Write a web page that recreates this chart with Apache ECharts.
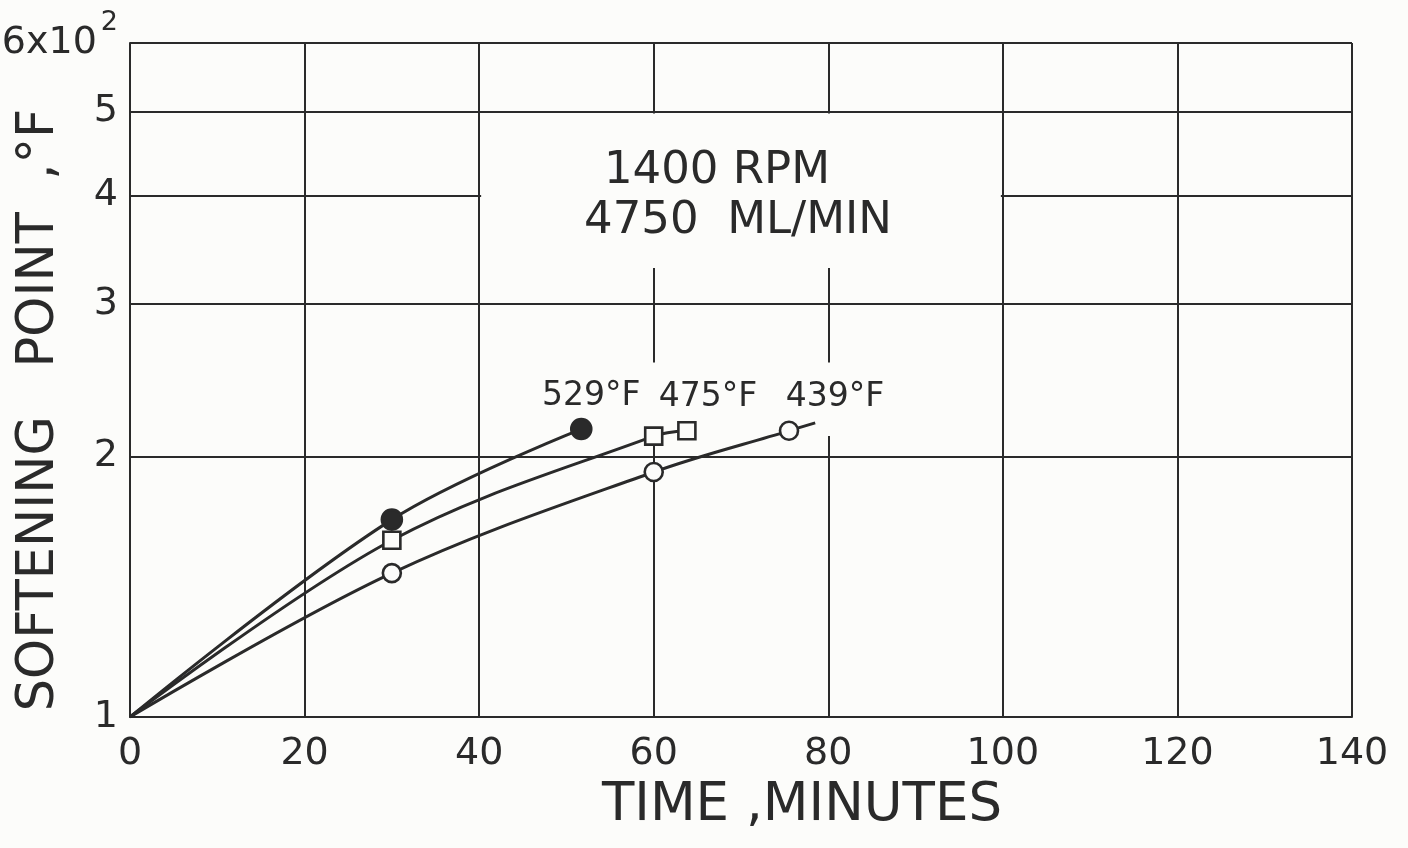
<!DOCTYPE html>
<html>
<head>
<meta charset="utf-8">
<script src="https://cdn.jsdelivr.net/npm/echarts@6/dist/echarts.min.js"></script>
<style>
html,body{margin:0;background:#fcfcfa}
#container{width:1408px;height:848px}
</style>
</head>
<body>
<div id="container"></div>
<script>
// softening point vs time (log scale)
var timeTicks = [0, 20, 40, 60, 80, 100, 120, 140];
var spTicks = [100, 200, 300, 400, 500, 600];

var names = ['529°F', '475°F', '439°F'];
var t529 = [0, 30, 51.7];
var sp529 = [100, 169, 215];
var t475 = [0, 30, 60, 63.8];
var sp475 = [100, 160, 211, 214];
var t439 = [0, 30, 60, 75.5, 78.5];
var sp439 = [100, 146.6, 191.8, 214, 218.6];
var conditions = ['1400 RPM', '4750  ML/MIN'];

var ink = '#2a2a2a';
var paper = '#fcfcfa';
var font = 'DejaVu Sans';

// first point has no marker; points past lastMark are bare curve
function pts(t, v, lastMark, dx) {
    return t.map(function (x, i) {
        var item = { value: [x, v[i]] };
        if (i === 0 || i > lastMark) item.symbol = 'none';
        if (i === lastMark) item.label = { show: true, offset: [dx, -33] };
        return item;
    });
}

function line(name, data, symbol, size, fill) {
    return {
        name: name,
        type: 'line',
        smooth: 0.35,
        data: data,
        symbol: symbol,
        symbolSize: size,
        showAllSymbol: true,
        lineStyle: { color: ink, width: 3 },
        itemStyle: { color: fill, borderColor: ink, borderWidth: 2.6 },
        label: {
            show: false, position: 'inside', formatter: '{a}',
            color: ink, fontFamily: font, fontSize: 33
        },
        emphasis: { disabled: true },
        z: 3
    };
}

var myChart = echarts.init(document.getElementById('container'));
var option = {
    backgroundColor: paper,
    animation: false,
    grid: { left: 130, right: 56, top: 43, bottom: 131, containLabel: false, outerBoundsMode: 'none' },
    xAxis: {
        type: 'value', min: 0, max: 140, interval: 20,
        axisLine: { show: true, lineStyle: { color: ink, width: 2 } },
        axisTick: { show: false },
        axisLabel: { color: ink, fontFamily: font, fontSize: 38, margin: 18 },
        splitLine: { show: true, lineStyle: { color: ink, width: 2 } }
    },
    yAxis: {
        type: 'log', logBase: 10, min: 100, max: 600,
        axisLine: { show: true, lineStyle: { color: ink, width: 2 } },
        axisTick: { show: false, customValues: spTicks },
        axisLabel: {
            customValues: spTicks, margin: 12, color: ink,
            formatter: function (v) {
                var n = Math.round(v / 100);
                if (n === 6) return '{a|6x10}{s|2}';
                return '{a|' + n + '}';
            },
            rich: {
                a: { fontFamily: font, fontSize: 38, color: ink },
                s: { fontFamily: font, fontSize: 27, color: ink, padding: [0, 0, 40, 4] }
            }
        },
        splitLine: { show: true, lineStyle: { color: ink, width: 2 } }
    },
    series: [
        line(names[0], pts(t529, sp529, 2, 10), 'circle', 20, ink),
        line(names[1], pts(t475, sp475, 3, 21), 'rect', 17, paper),
        line(names[2], pts(t439, sp439, 3, 46), 'circle', 18, paper)
    ]
};
myChart.setOption(option);

// white patches where the original grid is broken for the lettering
function px(x, y) { return myChart.convertToPixel({ gridIndex: 0 }, [x, y]); }
function patch(x0, y0, x1, y1) {
    var a = px(x0, y0), b = px(x1, y1);
    return {
        type: 'rect', z: 1, silent: true,
        shape: { x: a[0] + 2, y: a[1] + 2, width: b[0] - a[0] - 4, height: b[1] - a[1] - 2 },
        style: { fill: paper }
    };
}
function label(text, x, y, size, rot) {
    return {
        type: 'text', z: 5, x: x, y: y, rotation: rot || 0, silent: true,
        style: {
            text: text, fill: ink, font: size + 'px "' + font + '"',
            align: 'center', verticalAlign: 'middle'
        }
    };
}
myChart.setOption({
    graphic: [
        patch(40, 500, 100, 330),
        patch(52, 258, 92, 211),
        label(conditions[0], 717, 171, 45),
        label(conditions[1], 738, 221, 45),
        label('TIME ,MINUTES', 802, 806, 53),
        label('SOFTENING   POINT  ,°F', 40, 410, 51, Math.PI / 2)
    ]
});
</script>
</body>
</html>
